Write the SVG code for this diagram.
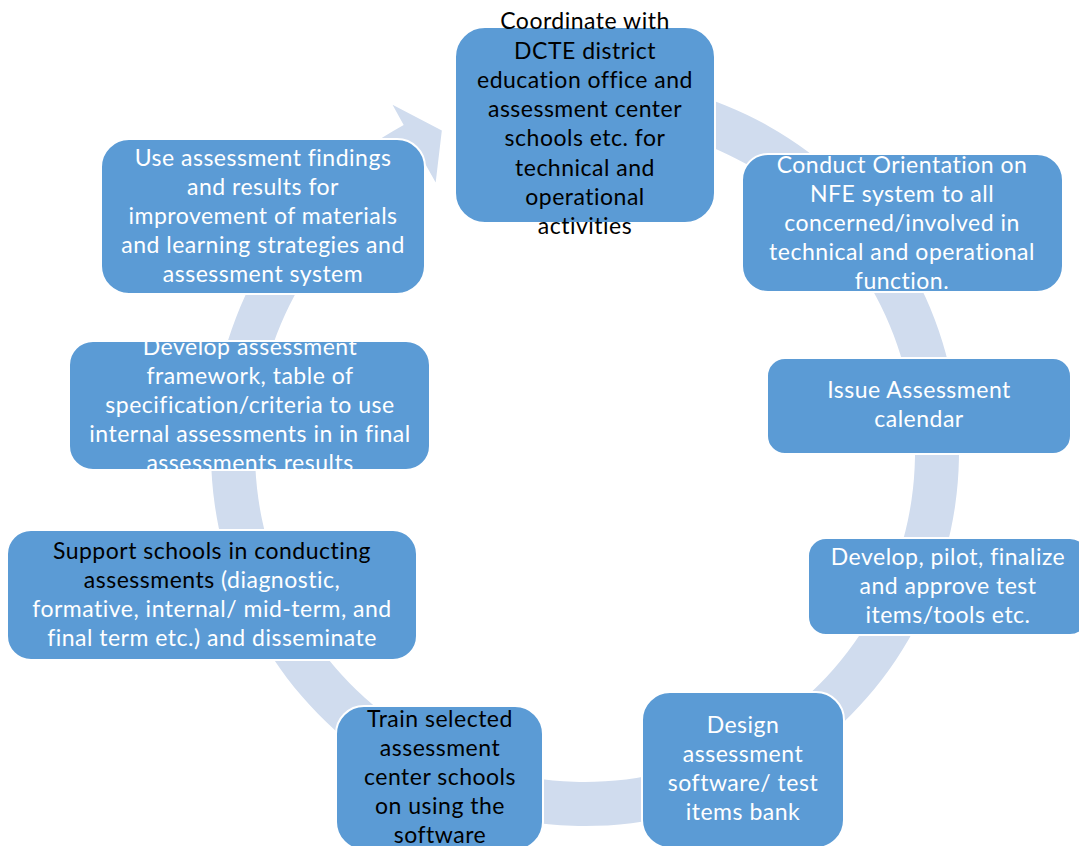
<svg xmlns="http://www.w3.org/2000/svg" width="1079" height="846" viewBox="0 0 1079 846">
<style>
.box{fill:#5B9BD5;stroke:#FFFFFF;stroke-width:2}
.t{font-family:Lato,"Liberation Sans",sans-serif;font-size:23px;letter-spacing:0.5px;text-anchor:middle;fill:#FFFFFF}
.k{fill:#000000}
.ring{fill:#D0DCEE}
</style>
<rect width="1079" height="846" fill="#FFFFFF"/>
<g id="connectors">
<path class="ring" d="M469.43,96.30 A374,374 0 1 1 403.68,124.89 L392.53,104.78 L441.83,130.43 L435.68,182.62 L425.01,163.38 A330,330 0 1 0 483.02,138.15 Z"/>
</g>
<g id="n1">
<rect class="box" x="455" y="27" width="260" height="196" rx="30"/>
<text class="t k" x="585" y="29">Coordinate with</text>
<text class="t k" x="585" y="58.5">DCTE district</text>
<text class="t k" x="585" y="88">education office and</text>
<text class="t k" x="585" y="117">assessment center</text>
<text class="t k" x="585" y="146">schools etc. for</text>
<text class="t k" x="585" y="175.5">technical and</text>
<text class="t k" x="585" y="205">operational</text>
<text class="t k" x="585" y="234">activities</text>
</g>
<g id="n2">
<rect class="box" x="742" y="154" width="321" height="138" rx="26"/>
<text class="t" x="902" y="173">Conduct Orientation on</text>
<text class="t" x="902" y="202">NFE system to all</text>
<text class="t" x="902" y="231">concerned/involved in</text>
<text class="t" x="902" y="260">technical and operational</text>
<text class="t" x="902" y="289">function.</text>
</g>
<g id="n3">
<rect class="box" x="767" y="358" width="304" height="96" rx="18"/>
<text class="t" x="919" y="398">Issue Assessment</text>
<text class="t" x="919" y="427">calendar</text>
</g>
<g id="n4">
<rect class="box" x="808" y="538" width="280" height="97" rx="18"/>
<text class="t" x="948" y="565">Develop, pilot, finalize</text>
<text class="t" x="948" y="594">and approve test</text>
<text class="t" x="948" y="623">items/tools etc.</text>
</g>
<g id="n5">
<rect class="box" x="642" y="692" width="202" height="156" rx="28"/>
<text class="t" x="743" y="733">Design</text>
<text class="t" x="743" y="762">assessment</text>
<text class="t" x="743" y="791">software/ test</text>
<text class="t" x="743" y="820">items bank</text>
</g>
<g id="n6">
<rect class="box" x="336" y="706" width="207" height="144" rx="28"/>
<text class="t k" x="440" y="727">Train selected</text>
<text class="t k" x="440" y="756">assessment</text>
<text class="t k" x="440" y="785">center schools</text>
<text class="t k" x="440" y="814">on using the</text>
<text class="t k" x="440" y="843">software</text>
</g>
<g id="n7">
<rect class="box" x="7" y="530" width="410" height="130" rx="24"/>
<text class="t k" x="212" y="559">Support schools in conducting</text>
<text class="t" x="212" y="588"><tspan class="k">assessments</tspan> (diagnostic,</text>
<text class="t" x="212" y="617">formative, internal/ mid-term, and</text>
<text class="t" x="212" y="646">final term etc.) and disseminate</text>
</g>
<g id="n8">
<rect class="box" x="69" y="341" width="361" height="129" rx="24"/>
<text class="t" x="250" y="355">Develop assessment</text>
<text class="t" x="250" y="384">framework, table of</text>
<text class="t" x="250" y="413">specification/criteria to use</text>
<text class="t" x="250" y="442">internal assessments in in final</text>
<text class="t" x="250" y="471">assessments results</text>
</g>
<g id="n9">
<rect class="box" x="101" y="139" width="324" height="155" rx="28"/>
<text class="t" x="263" y="166">Use assessment findings</text>
<text class="t" x="263" y="195">and results for</text>
<text class="t" x="263" y="224">improvement of materials</text>
<text class="t" x="263" y="253">and learning strategies and</text>
<text class="t" x="263" y="282">assessment system</text>
</g>
</svg>
